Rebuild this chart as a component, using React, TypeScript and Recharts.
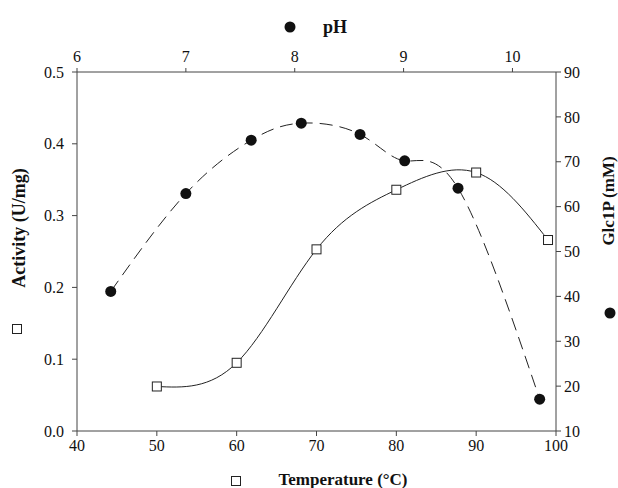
import React from "react";
import { ComposedChart, Line, XAxis, YAxis } from "recharts";

const temperatures = [50, 60, 70, 80, 90, 99];
const activity = [0.062, 0.095, 0.253, 0.336, 0.36, 0.266];

const phValues = [6.31, 7.0, 7.6, 8.06, 8.6, 9.01, 9.5, 10.25];
const glc1p = [41.1, 62.9, 74.8, 78.6, 76.1, 70.2, 64.1, 17.1];

const tempTicks = [40, 50, 60, 70, 80, 90, 100];
const phTicks = [6, 7, 8, 9, 10];
const activityTicks = [0, 0.1, 0.2, 0.3, 0.4, 0.5];
const glcTicks = [10, 20, 30, 40, 50, 60, 70, 80, 90];

const tempData = temperatures.map((t, i) => ({ temp: t, act: activity[i] }));
const phData = phValues.map((p, i) => ({ ph: p, glc: glc1p[i] }));

const FONT = "'Liberation Serif', 'Times New Roman', serif";
const AXIS = "#444";
const tickStyle = { fontFamily: FONT, fontSize: 16, fill: "#111" };

const SquareDot = (props: any) => {
  const { cx, cy } = props;
  if (cx == null || cy == null) return null;
  return (
    <rect x={cx - 4.5} y={cy - 4.5} width={9} height={9} fill="#fff" stroke="#222" strokeWidth={1} />
  );
};

const CircleDot = (props: any) => {
  const { cx, cy } = props;
  if (cx == null || cy == null) return null;
  return <circle cx={cx} cy={cy} r={5.5} fill="#111" stroke="none" />;
};

export default function App() {
  return (
    <div style={{ position: "absolute", left: 0, top: 0, width: 618, height: 488, background: "#fff" }}>
      <ComposedChart width={618} height={488} margin={{ top: 0, right: 0, bottom: 0, left: 0 }}>
        <XAxis
          xAxisId="temp"
          dataKey="temp"
          type="number"
          orientation="bottom"
          domain={[40, 100]}
          ticks={tempTicks}
          height={57}
          stroke={AXIS}
          tickSize={5}
          tickMargin={4}
          tick={tickStyle}
          allowDataOverflow
        />
        <XAxis
          xAxisId="ph"
          dataKey="ph"
          type="number"
          orientation="top"
          domain={[6, 10.4]}
          ticks={phTicks}
          height={72}
          stroke={AXIS}
          tickSize={4}
          tickMargin={6}
          tick={tickStyle}
          allowDataOverflow
        />
        <YAxis
          yAxisId="act"
          type="number"
          orientation="left"
          domain={[0, 0.5]}
          ticks={activityTicks}
          width={77}
          stroke={AXIS}
          tickSize={5}
          tickMargin={8}
          tick={tickStyle}
          tickFormatter={(v: number) => v.toFixed(1)}
        />
        <YAxis
          yAxisId="glc"
          type="number"
          orientation="right"
          domain={[10, 90]}
          ticks={glcTicks}
          width={62}
          stroke={AXIS}
          tickSize={5}
          tickMargin={3}
          tick={tickStyle}
        />
        <Line
          data={phData}
          xAxisId="ph"
          yAxisId="glc"
          dataKey="glc"
          type="natural"
          stroke="#222"
          strokeWidth={1}
          strokeDasharray="13 7"
          dot={<CircleDot />}
          activeDot={false}
          isAnimationActive={false}
        />
        <Line
          data={tempData}
          xAxisId="temp"
          yAxisId="act"
          dataKey="act"
          type="natural"
          stroke="#222"
          strokeWidth={1}
          dot={<SquareDot />}
          activeDot={false}
          isAnimationActive={false}
        />
      </ComposedChart>
      <svg
        width={618}
        height={488}
        style={{ position: "absolute", left: 0, top: 0, pointerEvents: "none" }}
      >
        <circle cx={290} cy={27} r={5.5} fill="#111" />
        <text x={323} y={33} fontFamily={FONT} fontSize={18} fontWeight="bold" fill="#111">
          pH
        </text>
        <rect x={231.5} y={476.5} width={9} height={9} fill="#fff" stroke="#222" />
        <text x={343} y={485} textAnchor="middle" fontFamily={FONT} fontSize={17} fontWeight="bold" fill="#111">
          Temperature (°C)
        </text>
        <text
          x={0}
          y={0}
          transform="translate(25,228) rotate(-90)"
          textAnchor="middle"
          fontFamily={FONT}
          fontSize={18}
          fontWeight="bold"
          fill="#111"
        >
          Activity (U/mg)
        </text>
        <rect x={12.5} y={324.5} width={9} height={9} fill="#fff" stroke="#222" />
        <text
          x={0}
          y={0}
          transform="translate(614,201) rotate(-90)"
          textAnchor="middle"
          fontFamily={FONT}
          fontSize={17}
          fontWeight="bold"
          fill="#111"
        >
          Glc1P (mM)
        </text>
        <circle cx={610} cy={313} r={5.5} fill="#111" />
      </svg>
    </div>
  );
}
